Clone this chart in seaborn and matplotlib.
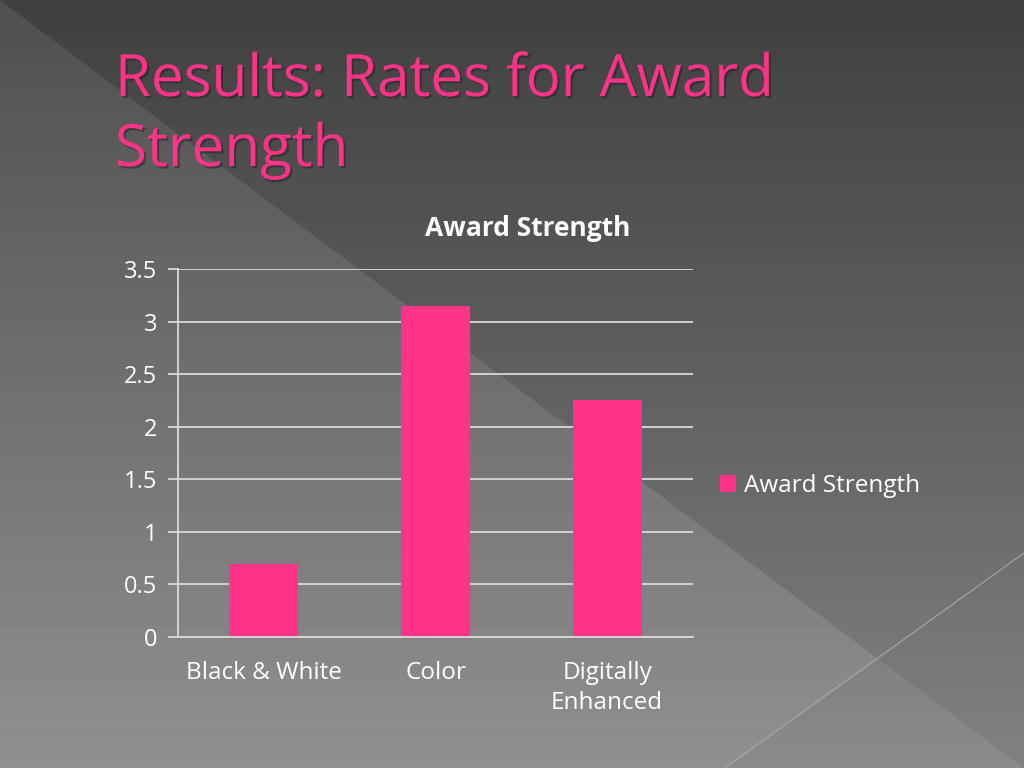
import numpy as np
import pandas as pd
import matplotlib.pyplot as plt
import matplotlib.patheffects as pe
import seaborn as sns

categories = ["Black & White", "Color", "Digitally\nEnhanced"]
values = [0.69, 3.15, 2.25]
series_name = "Award Strength"
slide_title = ["Results: Rates for Award", "Strength"]
chart_title = "Award Strength"
y_ticks = [0, 0.5, 1, 1.5, 2, 2.5, 3, 3.5]
y_tick_labels = ["0", "0.5", "1", "1.5", "2", "2.5", "3", "3.5"]

pink = "#FF3388"
grid_col = "#d9d9d9"

sns.set_style("white")
plt.rcParams["font.family"] = ["Open Sans", "DejaVu Sans"]

df = pd.DataFrame({"category": categories, "value": values, "series": series_name})

fig = plt.figure(figsize=(10.24, 7.68), dpi=100)

# slide background: vertical gradient, lighter triangle under the main diagonal
W, H = 1024, 768
yy, xx = np.mgrid[0:H, 0:W]
base = 64 + 0.085 * yy
lower = yy > xx * (H / W)
base = base + 15 * lower
corner = lower & (yy > 553 + (xx - 1024) * (215 / -299))
base = base - 6 * corner
img = np.clip(base, 0, 255) / 255.0
bg = fig.add_axes([0, 0, 1, 1], zorder=0)
bg.imshow(img, cmap="gray", vmin=0, vmax=1, extent=[0, W, H, 0], aspect="auto")
bg.plot([1024, 725], [553, 768], color="#a8a8a8", lw=0.8)
bg.set_xlim(0, W)
bg.set_ylim(H, 0)
bg.axis("off")

# slide title, two lines
shadow = [pe.withSimplePatchShadow(offset=(1.5, -1.5), shadow_rgbFace="#222222", alpha=0.5)]
for line, base_y in zip(slide_title, [96, 166]):
    fig.text(115 / W, 1 - base_y / H, line, color=pink, fontsize=42, va="baseline",
             ha="left", path_effects=shadow)

fig.text(528 / W, 1 - 228 / H, chart_title, color="white", fontsize=19,
         fontweight="bold", ha="center", va="center")

ax = fig.add_axes([178 / W, 1 - 637 / H, (693 - 178) / W, (637 - 269) / H], zorder=1)
ax.set_facecolor("none")
sns.barplot(data=df, x="category", y="value", hue="series", palette=[pink],
            width=0.4, dodge=False, ax=ax, saturation=1, linewidth=0)

ax.set_ylim(0, 3.5)
ax.set_xlim(-0.5, 2.5)
ax.set_yticks(y_ticks)
ax.set_yticklabels(y_tick_labels)
ax.yaxis.grid(True, color=grid_col, lw=1.3)
ax.set_axisbelow(True)
ax.set_xlabel("")
ax.set_ylabel("")
for s in ["top", "right"]:
    ax.spines[s].set_visible(False)
for s in ["left", "bottom"]:
    ax.spines[s].set_color(grid_col)
    ax.spines[s].set_linewidth(1.3)

ax.set_xticks([-0.5, 0.5, 1.5, 2.5], minor=True)
ax.tick_params(axis="x", which="major", length=0, pad=17, labelsize=17.5, labelcolor="white")
ax.tick_params(axis="x", which="minor", length=7, width=1.3, color=grid_col, direction="out")
ax.tick_params(axis="y", length=7, width=1.3, color=grid_col, direction="out", pad=8,
               labelsize=17, labelcolor="white", left=True)
for lbl in ax.get_xticklabels():
    lbl.set_linespacing(1.35)
    lbl.set_va("top")

leg = ax.legend(loc="center left", bbox_to_anchor=(1.01, 0.41), frameon=False,
                handlelength=0.65, handleheight=0.65, handletextpad=0.35, fontsize=17.5)
for t in leg.get_texts():
    t.set_color("white")

fig.savefig("out.png", dpi=100)
